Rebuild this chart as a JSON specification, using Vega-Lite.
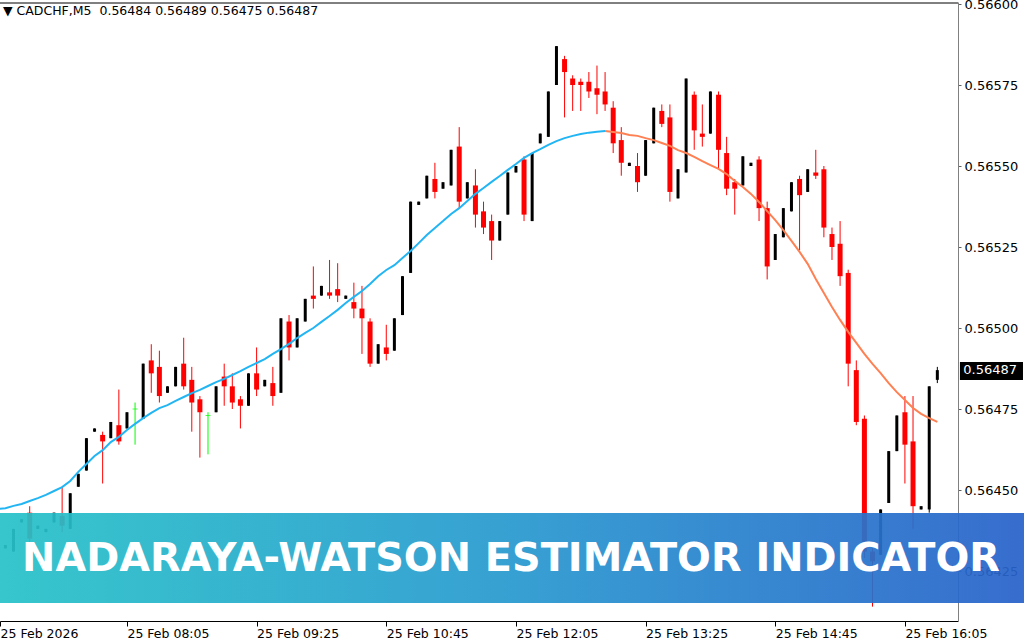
{
"$schema":"https://vega.github.io/schema/vega-lite/v6.json",
"width":958,"height":619,
"autosize":{"type":"none"},
"padding":{"left":0,"top":2,"right":66,"bottom":19},
"background":"#ffffff",
"config":{"view":{"stroke":null},"font":"DejaVu Sans","scale":{"continuousPadding":0}},
"title":{"text":"▼ CADCHF,M5\u00a0 0.56484 0.56489 0.56475 0.56487","anchor":"start","frame":"group","orient":"top","offset":-19,"dx":3,"font":"DejaVu Sans","fontSize":12.5,"fontWeight":"normal","color":"#000000"},
"datasets":{"bars":[
{"k":0,"o":0.56432,"h":0.56433,"l":0.56432,"c":0.56433,"nw":0.564441},
{"k":1,"o":0.56432,"h":0.56433,"l":0.56432,"c":0.56433,"nw":0.564444},
{"k":2,"o":0.56431,"h":0.56438,"l":0.56431,"c":0.56438,"nw":0.564451},
{"k":3,"o":0.56440,"h":0.56441,"l":0.56440,"c":0.56441,"nw":0.564457},
{"k":4,"o":0.56443,"h":0.56445,"l":0.56433,"c":0.56435,"nw":0.564466},
{"k":5,"o":0.56438,"h":0.56439,"l":0.56438,"c":0.56439,"nw":0.564475},
{"k":6,"o":0.56437,"h":0.56438,"l":0.56437,"c":0.56438,"nw":0.564485},
{"k":7,"o":0.56440,"h":0.56443,"l":0.56440,"c":0.56443,"nw":0.564497},
{"k":8,"o":0.56442,"h":0.56451,"l":0.56437,"c":0.56439,"nw":0.564509},
{"k":9,"o":0.56438,"h":0.56449,"l":0.56438,"c":0.56449,"nw":0.564528},
{"k":10,"o":0.56451,"h":0.56455,"l":0.56451,"c":0.56455,"nw":0.564556},
{"k":11,"o":0.56456,"h":0.56466,"l":0.56456,"c":0.56466,"nw":0.564580},
{"k":12,"o":0.56468,"h":0.56469,"l":0.56468,"c":0.56469,"nw":0.564605},
{"k":13,"o":0.56467,"h":0.56468,"l":0.56452,"c":0.56465,"nw":0.564623},
{"k":14,"o":0.56466,"h":0.56471,"l":0.56466,"c":0.56471,"nw":0.564648},
{"k":15,"o":0.56470,"h":0.56481,"l":0.56464,"c":0.56465,"nw":0.564664},
{"k":16,"o":0.56469,"h":0.56474,"l":0.56469,"c":0.56474,"nw":0.564685},
{"k":17,"o":0.56475,"h":0.56477,"l":0.56464,"c":0.56475,"nw":0.564704},
{"k":18,"o":0.56472,"h":0.56489,"l":0.56472,"c":0.56489,"nw":0.564722},
{"k":19,"o":0.56490,"h":0.56495,"l":0.56480,"c":0.56486,"nw":0.564738},
{"k":20,"o":0.56488,"h":0.56493,"l":0.56477,"c":0.56479,"nw":0.564753},
{"k":21,"o":0.56480,"h":0.56482,"l":0.56480,"c":0.56482,"nw":0.564762},
{"k":22,"o":0.56482,"h":0.56488,"l":0.56482,"c":0.56488,"nw":0.564775},
{"k":23,"o":0.56489,"h":0.56497,"l":0.56481,"c":0.56482,"nw":0.564787},
{"k":24,"o":0.56484,"h":0.56488,"l":0.56468,"c":0.56477,"nw":0.564799},
{"k":25,"o":0.56478,"h":0.56479,"l":0.56460,"c":0.56474,"nw":0.564809},
{"k":26,"o":0.56473,"h":0.56474,"l":0.56461,"c":0.56473,"nw":0.564821},
{"k":27,"o":0.56474,"h":0.56482,"l":0.56474,"c":0.56482,"nw":0.564833},
{"k":28,"o":0.56485,"h":0.56489,"l":0.56476,"c":0.56482,"nw":0.564843},
{"k":29,"o":0.56482,"h":0.56486,"l":0.56475,"c":0.56477,"nw":0.564855},
{"k":30,"o":0.56478,"h":0.56479,"l":0.56469,"c":0.56476,"nw":0.564867},
{"k":31,"o":0.56476,"h":0.56486,"l":0.56476,"c":0.56486,"nw":0.564880},
{"k":32,"o":0.56486,"h":0.56494,"l":0.56479,"c":0.56481,"nw":0.564892},
{"k":33,"o":0.56482,"h":0.56484,"l":0.56482,"c":0.56484,"nw":0.564904},
{"k":34,"o":0.56483,"h":0.56488,"l":0.56476,"c":0.56479,"nw":0.564920},
{"k":35,"o":0.56480,"h":0.56503,"l":0.56480,"c":0.56503,"nw":0.564935},
{"k":36,"o":0.56502,"h":0.56504,"l":0.56490,"c":0.56494,"nw":0.564951},
{"k":37,"o":0.56494,"h":0.56503,"l":0.56494,"c":0.56503,"nw":0.564969},
{"k":38,"o":0.56502,"h":0.56509,"l":0.56502,"c":0.56509,"nw":0.564985},
{"k":39,"o":0.56510,"h":0.56519,"l":0.56506,"c":0.56509,"nw":0.565000},
{"k":40,"o":0.56510,"h":0.56513,"l":0.56510,"c":0.56513,"nw":0.565019},
{"k":41,"o":0.56511,"h":0.56521,"l":0.56509,"c":0.56510,"nw":0.565037},
{"k":42,"o":0.56512,"h":0.56520,"l":0.56508,"c":0.56510,"nw":0.565056},
{"k":43,"o":0.56509,"h":0.56510,"l":0.56509,"c":0.56510,"nw":0.565077},
{"k":44,"o":0.56508,"h":0.56514,"l":0.56503,"c":0.56506,"nw":0.565096},
{"k":45,"o":0.56506,"h":0.56513,"l":0.56492,"c":0.56503,"nw":0.565114},
{"k":46,"o":0.56502,"h":0.56503,"l":0.56488,"c":0.56489,"nw":0.565136},
{"k":47,"o":0.56489,"h":0.56495,"l":0.56489,"c":0.56495,"nw":0.565160},
{"k":48,"o":0.56494,"h":0.56501,"l":0.56490,"c":0.56492,"nw":0.565179},
{"k":49,"o":0.56493,"h":0.56503,"l":0.56493,"c":0.56503,"nw":0.565194},
{"k":50,"o":0.56504,"h":0.56516,"l":0.56504,"c":0.56516,"nw":0.565216},
{"k":51,"o":0.56517,"h":0.56539,"l":0.56517,"c":0.56539,"nw":0.565238},
{"k":52,"o":0.56538,"h":0.56539,"l":0.56538,"c":0.56539,"nw":0.565262},
{"k":53,"o":0.56540,"h":0.56547,"l":0.56540,"c":0.56547,"nw":0.565287},
{"k":54,"o":0.56546,"h":0.56551,"l":0.56540,"c":0.56542,"nw":0.565309},
{"k":55,"o":0.56543,"h":0.56545,"l":0.56543,"c":0.56545,"nw":0.565330},
{"k":56,"o":0.56544,"h":0.56555,"l":0.56544,"c":0.56555,"nw":0.565352},
{"k":57,"o":0.56556,"h":0.56562,"l":0.56537,"c":0.56539,"nw":0.565370},
{"k":58,"o":0.56540,"h":0.56545,"l":0.56540,"c":0.56545,"nw":0.565392},
{"k":59,"o":0.56544,"h":0.56549,"l":0.56531,"c":0.56535,"nw":0.565414},
{"k":60,"o":0.56536,"h":0.56539,"l":0.56529,"c":0.56531,"nw":0.565432},
{"k":61,"o":0.56533,"h":0.56535,"l":0.56521,"c":0.56527,"nw":0.565451},
{"k":62,"o":0.56527,"h":0.56533,"l":0.56527,"c":0.56533,"nw":0.565469},
{"k":63,"o":0.56535,"h":0.56548,"l":0.56535,"c":0.56548,"nw":0.565488},
{"k":64,"o":0.56548,"h":0.56550,"l":0.56548,"c":0.56550,"nw":0.565506},
{"k":65,"o":0.56552,"h":0.56553,"l":0.56533,"c":0.56535,"nw":0.565525},
{"k":66,"o":0.56533,"h":0.56554,"l":0.56533,"c":0.56554,"nw":0.565540},
{"k":67,"o":0.56557,"h":0.56560,"l":0.56557,"c":0.56560,"nw":0.565552},
{"k":68,"o":0.56559,"h":0.56573,"l":0.56559,"c":0.56573,"nw":0.565565},
{"k":69,"o":0.56575,"h":0.56587,"l":0.56575,"c":0.56587,"nw":0.565577},
{"k":70,"o":0.56583,"h":0.56584,"l":0.56565,"c":0.56579,"nw":0.565586},
{"k":71,"o":0.56577,"h":0.56578,"l":0.56567,"c":0.56575,"nw":0.565593},
{"k":72,"o":0.56576,"h":0.56577,"l":0.56567,"c":0.56575,"nw":0.565599},
{"k":73,"o":0.56576,"h":0.56579,"l":0.56571,"c":0.56573,"nw":0.565603},
{"k":74,"o":0.56574,"h":0.56581,"l":0.56566,"c":0.56572,"nw":0.565606},
{"k":75,"o":0.56573,"h":0.56579,"l":0.56567,"c":0.56569,"nw":0.565608},
{"k":76,"o":0.56568,"h":0.56570,"l":0.56554,"c":0.56557,"nw":0.565605},
{"k":77,"o":0.56558,"h":0.56562,"l":0.56547,"c":0.56551,"nw":0.565602},
{"k":78,"o":0.56550,"h":0.56551,"l":0.56550,"c":0.56551,"nw":0.565596},
{"k":79,"o":0.56550,"h":0.56554,"l":0.56542,"c":0.56545,"nw":0.565593},
{"k":80,"o":0.56547,"h":0.56558,"l":0.56547,"c":0.56558,"nw":0.565586},
{"k":81,"o":0.56557,"h":0.56568,"l":0.56557,"c":0.56568,"nw":0.565580},
{"k":82,"o":0.56567,"h":0.56569,"l":0.56562,"c":0.56563,"nw":0.565571},
{"k":83,"o":0.56565,"h":0.56569,"l":0.56539,"c":0.56542,"nw":0.565562},
{"k":84,"o":0.56540,"h":0.56549,"l":0.56540,"c":0.56549,"nw":0.565549},
{"k":85,"o":0.56548,"h":0.56577,"l":0.56548,"c":0.56577,"nw":0.565540},
{"k":86,"o":0.56572,"h":0.56573,"l":0.56555,"c":0.56561,"nw":0.565528},
{"k":87,"o":0.56560,"h":0.56569,"l":0.56556,"c":0.56559,"nw":0.565515},
{"k":88,"o":0.56560,"h":0.56573,"l":0.56560,"c":0.56573,"nw":0.565503},
{"k":89,"o":0.56572,"h":0.56573,"l":0.56549,"c":0.56555,"nw":0.565491},
{"k":90,"o":0.56554,"h":0.56559,"l":0.56541,"c":0.56543,"nw":0.565475},
{"k":91,"o":0.56545,"h":0.56546,"l":0.56535,"c":0.56543,"nw":0.565454},
{"k":92,"o":0.56544,"h":0.56553,"l":0.56544,"c":0.56553,"nw":0.565435},
{"k":93,"o":0.56550,"h":0.56551,"l":0.56550,"c":0.56551,"nw":0.565414},
{"k":94,"o":0.56552,"h":0.56553,"l":0.56533,"c":0.56537,"nw":0.565389},
{"k":95,"o":0.56537,"h":0.56539,"l":0.56515,"c":0.56519,"nw":0.565361},
{"k":96,"o":0.56521,"h":0.56529,"l":0.56521,"c":0.56529,"nw":0.565333},
{"k":97,"o":0.56528,"h":0.56537,"l":0.56528,"c":0.56537,"nw":0.565302},
{"k":98,"o":0.56536,"h":0.56545,"l":0.56536,"c":0.56545,"nw":0.565269},
{"k":99,"o":0.56546,"h":0.56547,"l":0.56524,"c":0.56541,"nw":0.565235},
{"k":100,"o":0.56542,"h":0.56549,"l":0.56542,"c":0.56549,"nw":0.565198},
{"k":101,"o":0.56548,"h":0.56555,"l":0.56546,"c":0.56547,"nw":0.565151},
{"k":102,"o":0.56549,"h":0.56550,"l":0.56528,"c":0.56531,"nw":0.565108},
{"k":103,"o":0.56529,"h":0.56531,"l":0.56521,"c":0.56525,"nw":0.565065},
{"k":104,"o":0.56526,"h":0.56533,"l":0.56513,"c":0.56516,"nw":0.565025},
{"k":105,"o":0.56517,"h":0.56518,"l":0.56482,"c":0.56489,"nw":0.564988},
{"k":106,"o":0.56487,"h":0.56490,"l":0.56470,"c":0.56471,"nw":0.564954},
{"k":107,"o":0.56472,"h":0.56473,"l":0.56429,"c":0.56431,"nw":0.564920},
{"k":108,"o":0.56431,"h":0.56432,"l":0.56414,"c":0.56428,"nw":0.564889},
{"k":109,"o":0.56430,"h":0.56444,"l":0.56430,"c":0.56444,"nw":0.564861},
{"k":110,"o":0.56446,"h":0.56462,"l":0.56446,"c":0.56462,"nw":0.564830},
{"k":111,"o":0.56462,"h":0.56473,"l":0.56462,"c":0.56473,"nw":0.564802},
{"k":112,"o":0.56474,"h":0.56479,"l":0.56452,"c":0.56464,"nw":0.564778},
{"k":113,"o":0.56465,"h":0.56479,"l":0.56438,"c":0.56445,"nw":0.564753},
{"k":114,"o":0.56444,"h":0.56445,"l":0.56444,"c":0.56445,"nw":0.564735},
{"k":115,"o":0.56444,"h":0.56482,"l":0.56443,"c":0.56482,"nw":0.564722},
{"k":116,"o":0.56484,"h":0.56488,"l":0.56483,"c":0.56487,"nw":0.564710}
]},
"layer":[
{"data":{"name":"bars"},
 "encoding":{
  "x":{"field":"k","type":"quantitative","scale":{"domain":[0.333,118.55],"nice":false,"zero":false,"padding":0},
   "axis":{"orient":"bottom","title":null,"grid":false,"values":[0.34,16,32,48,64,80,96,112],
    "labelExpr":"datum.value < 1 ? '25 Feb 2026' : '25 Feb ' + ['','08:05','09:25','10:45','12:05','13:25','14:45','16:05'][round(datum.value/16)]",
    "labelAlign":"left","labelBaseline":"top","labelPadding":1,"labelFlush":false,"labelOverlap":false,"labelFont":"DejaVu Sans","labelFontSize":12.5,"labelColor":"#000000",
    "tickSize":5,"tickColor":"#000000","domainColor":"#000000","domainWidth":1}},
  "y":{"field":"l","type":"quantitative","scale":{"domain":[0.5640957,0.5660062],"nice":false,"zero":false,"padding":0},
   "axis":{"orient":"right","title":null,"grid":false,"values":[0.56425,0.5645,0.56475,0.565,0.56525,0.5655,0.56575,0.566],"format":".5f",
    "labelAlign":"left","labelBaseline":"middle","labelPadding":3,"labelFlush":false,"labelOverlap":false,"labelFont":"DejaVu Sans","labelFontSize":13,"labelColor":"#000000",
    "tickSize":3,"tickColor":"#606060","domainColor":"#808080","domainWidth":1}}
 },
 "layer":[
  {"mark":{"type":"rule","strokeWidth":1,"clip":true},
   "encoding":{
    "y2":{"field":"h"},
    "color":{"condition":[{"test":"datum.c > datum.o","value":"#000000"},{"test":"datum.c < datum.o","value":"#ff0000"}],"value":"#00ff00"}
   }},
  {"mark":{"type":"bar","clip":true},
   "encoding":{
    "y":{"field":"o","type":"quantitative"},
    "y2":{"field":"c"},
    "size":{"condition":{"test":"datum.c < datum.o","value":5},"value":3},
    "color":{"condition":[{"test":"datum.c > datum.o","value":"#000000"},{"test":"datum.c < datum.o","value":"#ff0000"}],"value":"#00ff00"}
   }},
  {"transform":[{"filter":"datum.o == datum.c"}],
   "mark":{"type":"tick","orient":"horizontal","thickness":1,"size":5,"color":"#00ff00","clip":true},
   "encoding":{"y":{"field":"o","type":"quantitative"}}},
  {"transform":[{"filter":"datum.k <= 75"}],
   "mark":{"type":"line","color":"#22b5f3","strokeWidth":2,"clip":true},
   "encoding":{"y":{"field":"nw","type":"quantitative"}}},
  {"transform":[{"filter":"datum.k >= 75"}],
   "mark":{"type":"line","color":"#ff8052","strokeWidth":2,"clip":true},
   "encoding":{"y":{"field":"nw","type":"quantitative"}}}
 ]},
{"data":{"values":[{"t":1}]},
 "mark":{"type":"rule","color":"#000000","strokeWidth":1,"clip":false},
 "encoding":{
  "x":{"datum":0.333,"type":"quantitative","title":null,"scale":{"domain":[0.333,118.55],"nice":false,"zero":false,"padding":0}},
  "x2":{"datum":118.55},
  "y":{"datum":0.5660031,"type":"quantitative","title":null,"scale":{"domain":[0.5640957,0.5660062],"nice":false,"zero":false,"padding":0}}
 }},
{"data":{"values":[{"t":1}]},
 "mark":{"type":"rect","clip":false,"fillOpacity":0.93,"color":{"gradient":"linear","x1":0,"y1":0,"x2":1,"y2":0,"stops":[{"offset":0,"color":"#27c2c8"},{"offset":0.5,"color":"#2899cf"},{"offset":1,"color":"#2862ca"}]}},
 "encoding":{
  "x":{"datum":0.333,"type":"quantitative","title":null,"scale":{"domain":[0.333,118.55],"nice":false,"zero":false,"padding":0}},
  "x2":{"datum":126.7},
  "y":{"datum":0.564429,"type":"quantitative","title":null,"scale":{"domain":[0.5640957,0.5660062],"nice":false,"zero":false,"padding":0}},
  "y2":{"datum":0.5641512}
 }},
{"data":{"values":[{"t":"NADARAYA-WATSON ESTIMATOR INDICATOR"}]},
 "mark":{"type":"text","clip":false,"font":"DejaVu Sans","fontSize":39.8,"fontWeight":"bold","color":"#ffffff","align":"center","baseline":"alphabetic"},
 "encoding":{
  "x":{"datum":63.39,"type":"quantitative","title":null,"scale":{"domain":[0.333,118.55],"nice":false,"zero":false,"padding":0}},
  "y":{"datum":0.56425,"type":"quantitative","title":null,"scale":{"domain":[0.5640957,0.5660062],"nice":false,"zero":false,"padding":0}},
  "text":{"field":"t"}
 }},
{"data":{"values":[{"t":"0.56487"}]},
 "mark":{"type":"rect","clip":false,"color":"#000000"},
 "encoding":{
  "x":{"datum":118.79,"type":"quantitative","title":null,"scale":{"domain":[0.333,118.55],"nice":false,"zero":false,"padding":0}},
  "x2":{"datum":126.57},
  "y":{"datum":0.5648951,"type":"quantitative","title":null,"scale":{"domain":[0.5640957,0.5660062],"nice":false,"zero":false,"padding":0}},
  "y2":{"datum":0.5648395}
 }},
{"data":{"values":[{"t":"0.56487"}]},
 "mark":{"type":"text","clip":false,"font":"DejaVu Sans","fontSize":13,"color":"#ffffff","align":"left","baseline":"middle"},
 "encoding":{
  "x":{"datum":119.2,"type":"quantitative","title":null,"scale":{"domain":[0.333,118.55],"nice":false,"zero":false,"padding":0}},
  "y":{"datum":0.56487,"type":"quantitative","title":null,"scale":{"domain":[0.5640957,0.5660062],"nice":false,"zero":false,"padding":0}},
  "text":{"field":"t"}
 }}
]
}
